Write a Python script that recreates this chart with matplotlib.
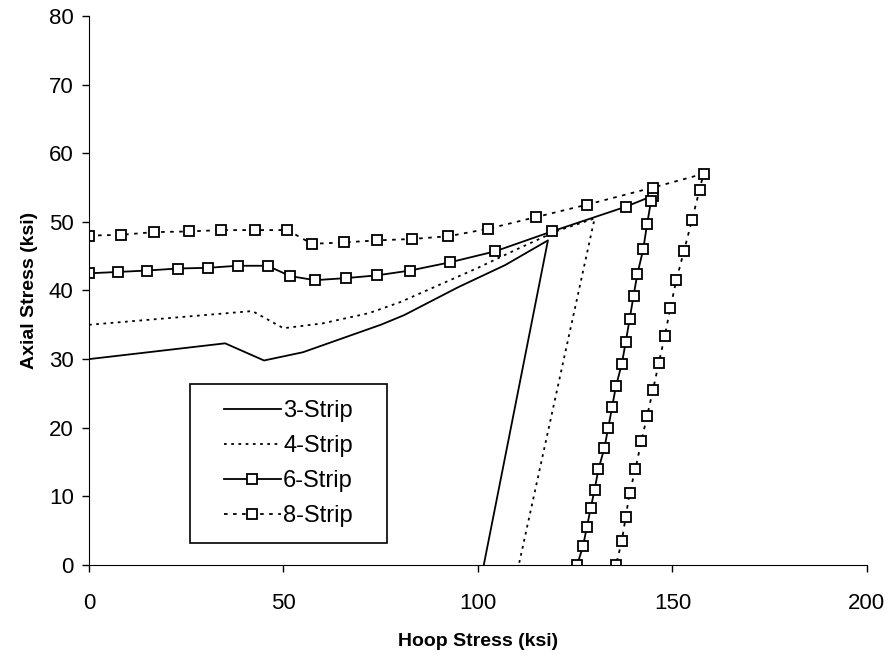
import matplotlib.pyplot as plt
from matplotlib.patches import Rectangle

plt.rcParams['font.family'] = ['Liberation Sans', 'DejaVu Sans']

# 3-strip ply (solid line)
hoop_3 = [0, 35, 45, 55, 65, 75, 81, 95, 107, 118, 101.5]
axial_3 = [30, 32.3, 29.8, 31.0, 33.0, 35.0, 36.4, 40.5, 43.7, 47.3, 0]

# 4-strip ply (dotted line)
hoop_4 = [0, 42, 50, 60, 72, 80, 90, 100, 110, 120, 130, 110.5]
axial_4 = [35, 37, 34.5, 35.2, 36.7, 38.3, 40.8, 43.3, 46.0, 48.6, 50.5, 0]

# 6-strip ply (solid line, square markers)
hoop_6 = [0, 7.4, 14.8, 22.8, 30.5, 38.2, 45.9, 51.7, 58.1, 66, 74, 82.5, 92.8,
          104.4, 119, 138, 145,
          144.5, 143.5, 142.5, 141, 140, 139, 138, 137, 135.5, 134.5, 133.5,
          132.5, 131, 130, 129, 128, 127, 125.5]
axial_6 = [42.5, 42.7, 42.9, 43.2, 43.3, 43.6, 43.6, 42.1, 41.5, 41.8, 42.2, 42.9,
           44.1, 45.7, 48.6, 52.2, 53.8,
           53.0, 49.7, 46.0, 42.4, 39.2, 35.8, 32.5, 29.3, 26.1, 23.0, 20.0,
           17.0, 14.0, 11.0, 8.3, 5.5, 2.7, 0]

# 8-strip ply (dotted line, square markers)
hoop_8 = [0, 8.1, 16.6, 25.6, 33.9, 42.7, 51.0, 57.3, 65.6, 74.0, 83.0, 92.4,
          102.7, 115, 128, 145, 158,
          157, 155, 153, 151, 149.5, 148, 146.5, 145, 143.5, 142, 140.5, 139, 138,
          137, 135.5]
axial_8 = [48.0, 48.1, 48.5, 48.6, 48.8, 48.8, 48.8, 46.8, 47.0, 47.3, 47.5, 47.9,
           49.0, 50.7, 52.5, 55.0, 57.0,
           54.7, 50.2, 45.8, 41.5, 37.5, 33.3, 29.4, 25.5, 21.7, 18.0, 14.0, 10.5,
           7.0, 3.5, 0]

fig = plt.figure(figsize=(8.91, 6.56), dpi=100)
ax = fig.add_axes([0.0999, 0.1387, 0.873, 0.837])

ax.plot(hoop_3, axial_3, color='black', lw=1.3, label='3-Strip')
ax.plot(hoop_4, axial_4, color='black', lw=1.3, ls=(0, (1.5, 2.5)), label='4-Strip')
ax.plot(hoop_6, axial_6, color='black', lw=1.3, marker='s', ms=6.5,
        mfc='white', mec='black', mew=1.3, label='6-Strip')
ax.plot(hoop_8, axial_8, color='black', lw=1.3, ls=(0, (2, 3)), marker='s', ms=6.5,
        mfc='white', mec='black', mew=1.3, label='8-Strip')

ax.set_xlim(0, 200)
ax.set_ylim(0, 80)
ax.set_xticks(range(0, 201, 50))
ax.set_yticks(range(0, 81, 10))
ax.spines['top'].set_visible(False)
ax.spines['right'].set_visible(False)
ax.tick_params(direction='out', length=5, width=1, labelsize=16)
ax.tick_params(axis='x', pad=15)
ax.tick_params(axis='y', pad=6)

ax.set_xlabel('Hoop Stress (ksi)', fontsize=14, fontweight='bold', labelpad=14)
ax.set_ylabel('Axial Stress (ksi)', fontsize=14, fontweight='bold', labelpad=8)

# legend box drawn separately so the entries sit centred inside it
box = Rectangle((0.13, 0.04), 0.253, 0.29, transform=ax.transAxes,
                fill=False, edgecolor='black', lw=1.2, zorder=5)
ax.add_patch(box)
leg = ax.legend(loc='center', bbox_to_anchor=(0.13 + 0.253 / 2, 0.04 + 0.29 / 2),
                fontsize=17, frameon=False, handlelength=2.4,
                handletextpad=0.1, labelspacing=0.55, borderpad=0)

fig.savefig('out.png', dpi=100)
